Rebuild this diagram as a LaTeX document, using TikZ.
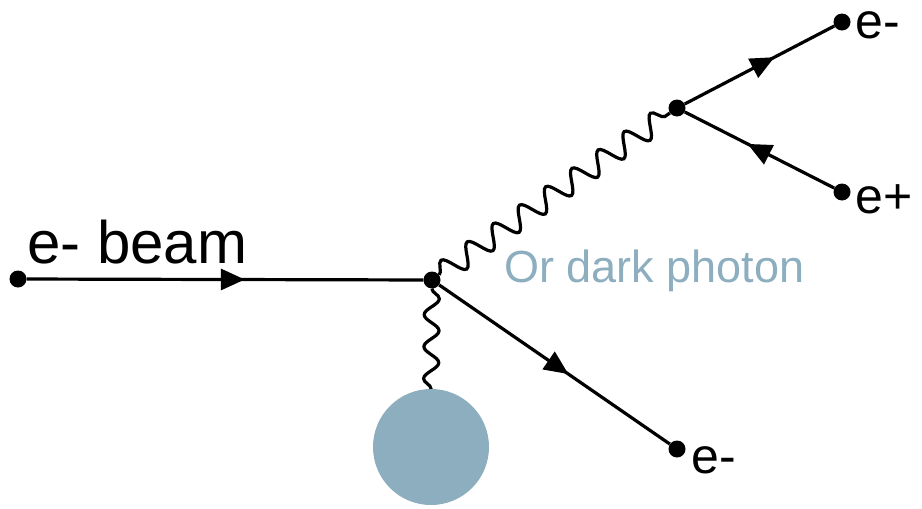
\documentclass[tikz,border=0pt]{standalone}
\usepackage{fontspec}
\setmainfont{Liberation Sans}
\usetikzlibrary{decorations.markings,decorations.pathmorphing,arrows.meta}
\definecolor{blobblue}{RGB}{141,174,191}
\begin{document}
\begin{tikzpicture}[x=1pt,y=-1pt,
  dot/.style={circle,fill=black,inner sep=0pt,minimum size=17pt},
  fermion/.style={line width=3.2pt,postaction={decorate},
    decoration={markings,mark=at position #1 with {\arrow{Triangle[length=24pt,width=21pt]}}}},
  fermion/.default=0.55,
  photon/.style={line width=3.2pt,decorate,
    decoration={snake,amplitude=#1,segment length=32pt}},
  photon/.default=9pt,
  lbl/.style={anchor=base west,inner sep=0pt,font=\fontsize{#1}{#1}\selectfont}]
\useasboundingbox (0,0) rectangle (922,509);
\node[dot] (beam) at (18,279) {};
\node[dot] (v1) at (432,280) {};
\node[dot] (v2) at (677,108) {};
\node[dot] (eout) at (677,449) {};
\node[dot] (etop) at (842,22) {};
\node[dot] (epos) at (842,192) {};
\node[circle,fill=blobblue,inner sep=0pt,minimum size=116pt] (blob) at (431,447) {};
\draw[fermion=0.55] (beam) -- (v1);
\draw[fermion=0.56] (v1) -- (eout);
\draw[fermion=0.6] (v2) -- (etop);
\draw[fermion=0.58] (epos) -- (v2);
\draw[photon=11pt] (v1) -- (v2);
\draw[photon=7.5pt] (v1) -- (blob.north);
\node[lbl=60pt] (tbeam) at (27,263) {e- beam};
\node[lbl=45pt,text=blobblue] (tdark) at (504,282) {Or dark photon};
\node[lbl=50pt] (ttop) at (855,38) {e-};
\node[lbl=50pt] (tpos) at (855,213) {e+};
\node[lbl=50pt] (tout) at (691,473) {e-};
\end{tikzpicture}
\end{document}
